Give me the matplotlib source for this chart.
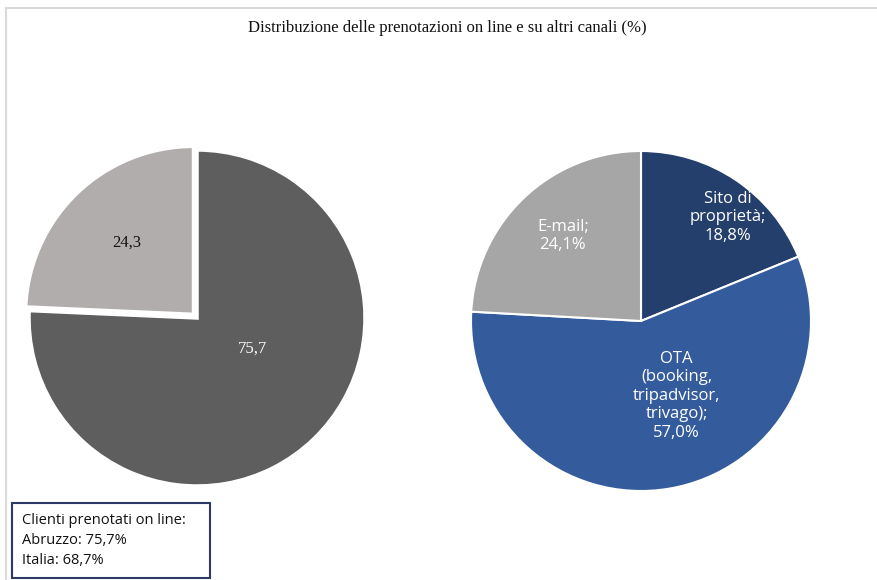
import matplotlib
matplotlib.use("Agg")
import matplotlib.pyplot as plt
from matplotlib.patches import Rectangle

# dati
left_labels = ["75,7", "24,3"]
left_values = [75.7, 24.3]
right_labels = ["Sito di\nproprietà;\n18,8%", "OTA\n(booking,\ntripadvisor,\ntrivago);\n57,0%", "E-mail;\n24,1%"]
right_values = [18.8, 57.0, 24.1]
title = "Distribuzione delle prenotazioni on line e su altri canali (%)"
box_lines = ["Clienti prenotati on line:", "Abruzzo: 75,7%", "Italia: 68,7%"]

# colori
LEFT_COLORS = ["#5E5E5E", "#B0ADAC"]
LEFT_TXT = ["white", "#111111"]
RIGHT_COLORS = ["#243F6B", "#345B9B", "#A6A6A6"]

W, H = 878, 580
fig = plt.figure(figsize=(W / 100, H / 100), dpi=100)
fig.patch.set_facecolor("white")


def pie_axes(cx, cy, half):
    # asse quadrato centrato sul centro della torta (pixel)
    return fig.add_axes([(cx - half) / W, (H - cy - half) / H, 2 * half / W, 2 * half / H])


def fix_limits(ax, r, half):
    lim = half / r
    ax.set_xlim(-lim, lim)
    ax.set_ylim(-lim, lim)
    ax.set_aspect("equal")
    ax.axis("off")


# torta sinistra
axl = pie_axes(197, 318, 185)
wl, _ = axl.pie(left_values, colors=LEFT_COLORS, startangle=90, counterclock=False,
                explode=[0, 0.03], radius=1,
                wedgeprops=dict(edgecolor="white", linewidth=2.5))
fix_limits(axl, 168, 185)
left_pos = [(0.33, -0.18), (-0.42, 0.45)]
for (x, y), lab, c in zip(left_pos, left_labels, LEFT_TXT):
    axl.text(x, y, lab, ha="center", va="center", fontsize=12, color=c,
             family="Liberation Serif")

# torta destra
axr = pie_axes(641, 321, 185)
wr, _ = axr.pie(right_values, colors=RIGHT_COLORS, startangle=90, counterclock=False,
                radius=1, wedgeprops=dict(edgecolor="white", linewidth=1.5))
fix_limits(axr, 170, 185)
right_pos = [(0.51, 0.61), (0.21, -0.44), (-0.46, 0.50)]
for (x, y), lab in zip(right_pos, right_labels):
    axr.text(x, y, lab, ha="center", va="center", fontsize=12, color="white",
             family="Open Sans", linespacing=1.2)

# titolo
fig.text(447 / W, 1 - 28 / H, title, ha="center", va="center", fontsize=12,
         family="Liberation Serif", color="#111111")

# cornice grigia
fig.add_artist(plt.Line2D([6 / W, 1], [1 - 8 / H, 1 - 8 / H], color="#D9D9D9", lw=1.5))
fig.add_artist(plt.Line2D([6 / W, 6 / W], [0, 1 - 8 / H], color="#D9D9D9", lw=1.5))

# riquadro clienti on line
fig.add_artist(Rectangle((12 / W, 2 / H), 198 / W, 75 / H, transform=fig.transFigure,
                         facecolor="white", edgecolor="#2B3A67", lw=1.5))
for i, line in enumerate(box_lines):
    fig.text(22 / W, 1 - (520 + i * 20) / H, line, ha="left", va="center",
             fontsize=10.5, family="Open Sans", color="#111111")

fig.savefig("out.png", dpi=100, facecolor="white")
